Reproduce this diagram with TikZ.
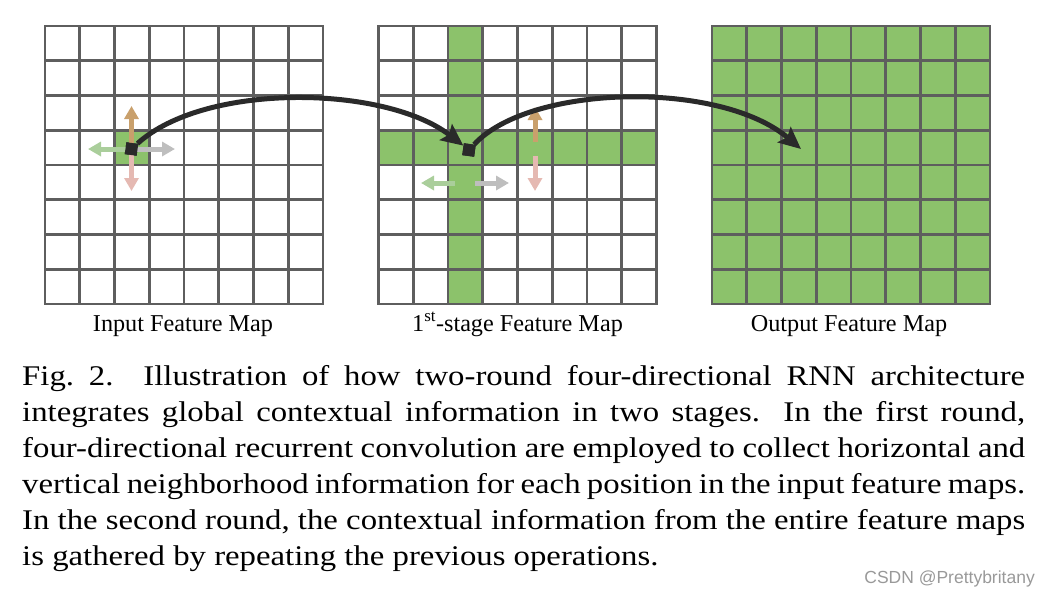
\documentclass[tikz,border=0pt]{standalone}
\usepackage{fontspec}
\setmainfont{Liberation Serif}
\newfontfamily\capfont[FakeStretch=1.15]{Liberation Serif}
\newfontfamily\wmfont{Liberation Sans}
\usetikzlibrary{arrows.meta}
\definecolor{gridgray}{HTML}{5E5E5E}
\definecolor{cellgreen}{HTML}{8CC26B}
\definecolor{upcol}{HTML}{C9A06C}
\definecolor{rightcol}{HTML}{BEBEBE}
\definecolor{leftcol}{HTML}{AACE9B}
\definecolor{downcol}{HTML}{E5B9B2}
\definecolor{arrowblack}{HTML}{2A2A2A}
\tikzset{
  gl/.style={draw=gridgray, line width=2.6pt, line cap=rect},
  greenfill/.style={fill=cellgreen, draw=none},
  dirarrow/.style={line width=5pt, -{Triangle[length=13pt,width=14pt]}},
  bigarrow/.style={draw=arrowblack, line width=5pt, -{Stealth[length=22pt,width=20pt,inset=4pt]}},
  marker/.style={fill=arrowblack, draw=none, minimum size=12pt, inner sep=0pt, rotate=-8},
  label/.style={font=\fontsize{24.2}{28}\selectfont, anchor=base},
  capline/.style={font=\capfont\fontsize{28.5}{36}\selectfont, anchor=base west, inner sep=0pt},
}
\begin{document}
\begin{tikzpicture}[x=1pt,y=-1pt]
\useasboundingbox (0,0) rectangle (1051,595);
% green fills
\fill[greenfill] (114.5,130.25) rectangle (149.25,165);
\fill[greenfill] (448,26) rectangle (482.75,304);
\fill[greenfill] (378.5,130.25) rectangle (656.5,165);
\fill[greenfill] (712,26) rectangle (990,304);
% grids
\foreach \g in {45,378.5,712} {
  \foreach \i in {0,...,8} {
    \draw[gl] ({\g+\i*34.75},26) -- ({\g+\i*34.75},304);
    \draw[gl] (\g,{26+\i*34.75}) -- ({\g+278},{26+\i*34.75});
  }
}
% markers and points
\node[marker] (sq1) at (131.5,149) {};
\node[marker] (sq2) at (469,150) {};
\coordinate (tgt) at (801,149);
% directional arrows, first grid
\coordinate (a1c) at (131.5,149);
\coordinate (a1u) at (131.5,106);
\coordinate (a1d) at (131.5,191);
\coordinate (a1l) at (88,149);
\coordinate (a1r) at (175,149);
\draw[dirarrow, draw=upcol, fill=upcol] (a1c) -- (a1u);
\draw[dirarrow, draw=downcol, fill=downcol] (a1c) -- (a1d);
\draw[dirarrow, draw=leftcol, fill=leftcol] (a1c) -- (a1l);
\draw[dirarrow, draw=rightcol, fill=rightcol] (a1c) -- (a1r);
% directional arrows, second grid
\coordinate (b1u0) at (535,142);
\coordinate (b1u) at (535,107);
\coordinate (b1d0) at (535,156);
\coordinate (b1d) at (535,191);
\coordinate (b1l0) at (455,183);
\coordinate (b1l) at (421,183);
\coordinate (b1r0) at (475,183);
\coordinate (b1r) at (509,183);
\draw[dirarrow, draw=upcol, fill=upcol] (b1u0) -- (b1u);
\draw[dirarrow, draw=downcol, fill=downcol] (b1d0) -- (b1d);
\draw[dirarrow, draw=leftcol, fill=leftcol] (b1l0) -- (b1l);
\draw[dirarrow, draw=rightcol, fill=rightcol] (b1r0) -- (b1r);
% big curved arrows
\draw[bigarrow] (sq1) .. controls (205,82) and (385,85) .. (sq2);
\draw[bigarrow] (sq2) .. controls (530,84) and (720,80) .. (tgt);
\node[marker] at (sq1) {};
\node[marker] at (sq2) {};
% labels
\node[label] (l1) at (183,331) {Input Feature Map};
\node[label] (l2) at (517.5,331) {1\textsuperscript{st}-stage Feature Map};
\node[label] (l3) at (849,331) {Output Feature Map};
% caption
\node[capline] (c1) at (22,385) {\makebox[1003pt][s]{Fig.~2.\hspace*{30pt}Illustration of how two-round four-directional RNN architecture}};
\node[capline] (c2) at (22,421) {\makebox[1003pt][s]{integrates global contextual information in two stages. In the first round,}};
\node[capline] (c3) at (22,457) {\makebox[1003pt][s]{four-directional recurrent convolution are employed to collect horizontal and}};
\node[capline] (c4) at (22,493) {\makebox[1003pt][s]{vertical neighborhood information for each position in the input feature maps.}};
\node[capline] (c5) at (22,529) {\makebox[1003pt][s]{In the second round, the contextual information from the entire feature maps}};
\node[capline] (c6) at (22,565) {is gathered by repeating the previous operations.};
% watermark
\node[font=\wmfont\fontsize{17.5}{20}\selectfont, text=black!40, anchor=base east, inner sep=0pt] (wm) at (1035,583) {CSDN @Prettybritany};
\end{tikzpicture}
\end{document}
